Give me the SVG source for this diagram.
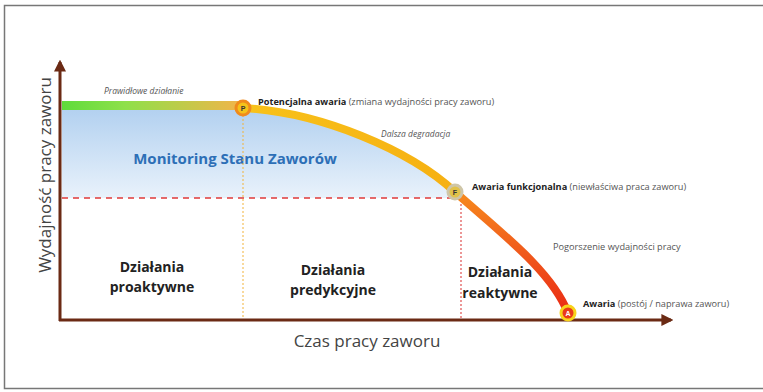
<svg xmlns="http://www.w3.org/2000/svg" width="763" height="392" viewBox="0 0 763 392">
<defs>
<style>
.lbl{font-family:"Open Sans","Liberation Sans",sans-serif;}
.small{font-size:9.2px;fill:#555;}
.it{font-style:italic;font-size:8.5px;}
.b{font-weight:bold;fill:#222;}
.act{font-family:"Open Sans","Liberation Sans",sans-serif;font-size:14px;font-weight:bold;fill:#222;text-anchor:middle;}
.axis{stroke:#6b2a14;stroke-width:3;fill:none;}
</style>
<linearGradient id="blue" x1="0" y1="0" x2="0" y2="1">
<stop offset="0" stop-color="#b3d1f0"/>
<stop offset="1" stop-color="#e9f2fb"/>
</linearGradient>
<linearGradient id="bar" x1="0" y1="0" x2="1" y2="0">
<stop offset="0" stop-color="#5fdc3c"/>
<stop offset="0.35" stop-color="#8fe04a"/>
<stop offset="1" stop-color="#f3b44a"/>
</linearGradient>
<linearGradient id="c1" x1="243" y1="0" x2="455" y2="0" gradientUnits="userSpaceOnUse">
<stop offset="0" stop-color="#f8c21a"/>
<stop offset="1" stop-color="#f6b012"/>
</linearGradient>
<linearGradient id="c2" x1="0" y1="192" x2="0" y2="313" gradientUnits="userSpaceOnUse">
<stop offset="0" stop-color="#f78a1c"/>
<stop offset="0.5" stop-color="#f05a1c"/>
<stop offset="1" stop-color="#ea2a14"/>
</linearGradient>
<marker id="arr" viewBox="0 0 10 10" refX="8" refY="5" markerWidth="4" markerHeight="4" orient="auto">
<path d="M0,0 L10,5 L0,10 z" fill="#6b2a14"/>
</marker>
</defs>
<rect x="4.5" y="5.5" width="770" height="383" fill="#fff" stroke="#777" stroke-width="1.5"/>

<g id="monitoring-area">
<path d="M62,110 L243,110 C320,114 410,152 455,196 L455,198 L62,198 Z" fill="url(#blue)"/>
<text x="235" y="164" class="lbl" font-size="15" font-weight="bold" fill="#2d6fb6" text-anchor="middle">Monitoring Stanu Zaworów</text>
</g>

<g id="normal-bar">
<rect x="62" y="101" width="181" height="9" fill="url(#bar)"/>
<text x="104" y="94" class="lbl small it">Prawidłowe działanie</text>
</g>

<g id="connectors">
<line x1="62" y1="198" x2="452" y2="198" stroke="#e03a3a" stroke-width="1.5" stroke-dasharray="6,5"/>
<line x1="243" y1="115" x2="243" y2="319" stroke="#f2b33a" stroke-width="1" stroke-dasharray="2,2"/>
<line x1="461" y1="200" x2="461" y2="319" stroke="#e05050" stroke-width="1.2" stroke-dasharray="2,2"/>
<path d="M243,108 C320,112 410,150 455,192" stroke="url(#c1)" stroke-width="8" fill="none"/>
<path d="M455,192 C505,236 552,272 568,313" stroke="url(#c2)" stroke-width="8" fill="none"/>
<line x1="60" y1="321" x2="60" y2="62" class="axis" marker-end="url(#arr)"/>
<line x1="59" y1="320" x2="671" y2="320" class="axis" marker-end="url(#arr)"/>
</g>

<g id="node-P">
<circle cx="243" cy="108" r="7" fill="#f5c21a" stroke="#f08a1c" stroke-width="3"/>
<text x="243" y="111" font-family="Liberation Sans,sans-serif" font-size="7" font-weight="bold" fill="#333" text-anchor="middle">P</text>
<text x="258" y="105" class="lbl small"><tspan class="b">Potencjalna awaria</tspan> (zmiana wydajności pracy zaworu)</text>
</g>

<g id="degradation">
<text x="381" y="137" class="lbl small it">Dalsza degradacja</text>
</g>

<g id="node-F">
<circle cx="455" cy="192" r="7" fill="#e2c24a" stroke="#cfc6a8" stroke-width="3"/>
<text x="455" y="195" font-family="Liberation Sans,sans-serif" font-size="7" font-weight="bold" fill="#333" text-anchor="middle">F</text>
<text x="472" y="190" class="lbl small"><tspan class="b">Awaria funkcjonalna</tspan> (niewłaściwa praca zaworu)</text>
</g>

<g id="worsening">
<text x="553" y="250" class="lbl small">Pogorszenie wydajności pracy</text>
</g>

<g id="node-A">
<circle cx="568" cy="313" r="7" fill="#ea3a1a" stroke="#f8d21a" stroke-width="3"/>
<text x="568" y="316" font-family="Liberation Sans,sans-serif" font-size="7" font-weight="bold" fill="#fff" text-anchor="middle">A</text>
<text x="583" y="307" class="lbl small"><tspan class="b">Awaria</tspan> (postój / naprawa zaworu)</text>
</g>

<g id="proaktywne">
<text x="152" y="272" class="act">Działania</text>
<text x="152" y="292" class="act">proaktywne</text>
</g>
<g id="predykcyjne">
<text x="333" y="275" class="act">Działania</text>
<text x="333" y="295" class="act">predykcyjne</text>
</g>
<g id="reaktywne">
<text x="500" y="277" class="act">Działania</text>
<text x="500" y="298" class="act">reaktywne</text>
</g>

<g id="axis-labels">
<text x="367" y="347" class="lbl" font-size="17" fill="#444" text-anchor="middle">Czas pracy zaworu</text>
<text transform="translate(51,175) rotate(-90)" class="lbl" font-size="17" fill="#444" text-anchor="middle">Wydajność pracy zaworu</text>
</g>
</svg>
